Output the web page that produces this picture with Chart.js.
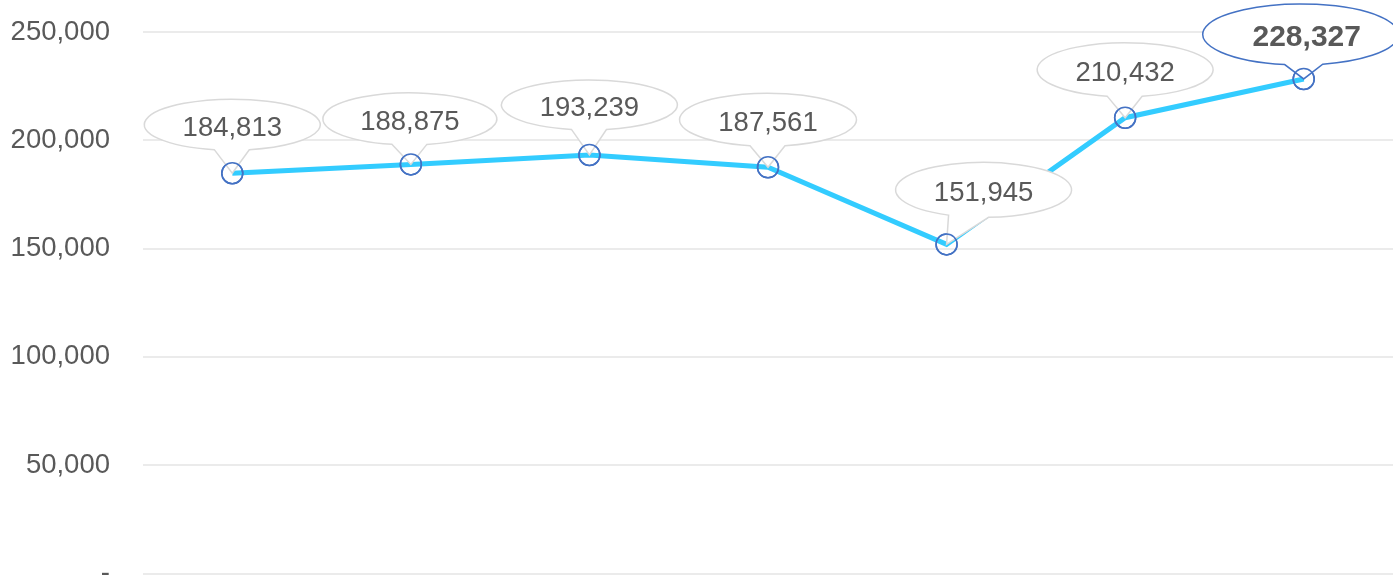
<!DOCTYPE html>
<html>
<head>
<meta charset="utf-8">
<script src="https://cdn.jsdelivr.net/npm/chart.js@4.4.0/dist/chart.umd.min.js"></script>
<style>
  html, body { margin: 0; padding: 0; background: #ffffff; overflow: hidden; }
  #wrap { position: relative; width: 1393px; height: 590px; }
</style>
</head>
<body>
<div id="wrap"><canvas id="c"></canvas></div>
<script>
// ---- data ----
const categories = ["1", "2", "3", "4", "5", "6", "7"];
const values = [184813, 188875, 193239, 187561, 151945, 210432, 228327];
const yTicks = [0, 50000, 100000, 150000, 200000, 250000];

// ---- callout styling (offsets from the point, sizes) ----
const callouts = [
  { dx: 0,  dy: -48.5, w: 176, h: 51, base: [-18, 17] },
  { dx: -1, dy: -45.5, w: 174, h: 52, base: [-18, 17] },
  { dx: 0,  dy: -50,   w: 176, h: 50, base: [-18, 17] },
  { dx: 0,  dy: -47.5, w: 177, h: 53, base: [-18, 17] },
  { dx: 37, dy: -54.5, w: 176, h: 55, base: [-35, 5] },
  { dx: 0,  dy: -48,   w: 176, h: 54, base: [-18, 17] },
  { dx: -3, dy: -44.5, w: 196, h: 61, base: [-16, 22], bold: true, border: '#4472c4', tdx: 6 }
];

const fmt = v => v === 0 ? '-' : v.toLocaleString('en-US');

const calloutPlugin = {
  id: 'callouts',
  afterDatasetsDraw(chart) {
    const meta = chart.getDatasetMeta(0);
    const ctx = chart.ctx;
    meta.data.forEach((pt, i) => {
      const c = callouts[i];
      const px = pt.x, py = pt.y;
      const cx = px + c.dx, cy = py + c.dy;
      const a = c.w / 2, b = c.h / 2;
      const uL = Math.max(-a + 1, Math.min(a - 1, c.base[0]));
      const uR = Math.max(-a + 1, Math.min(a - 1, c.base[1]));
      const tL = Math.acos(uL / a);
      const tR = Math.acos(uR / a);
      ctx.save();
      ctx.beginPath();
      ctx.ellipse(cx, cy, a, b, 0, tL, tR, false);
      ctx.lineTo(px, py);
      ctx.closePath();
      ctx.fillStyle = '#ffffff';
      ctx.fill();
      ctx.lineWidth = 1.5;
      ctx.strokeStyle = c.border || '#d9d9d9';
      ctx.stroke();
      ctx.fillStyle = '#595959';
      ctx.font = (c.bold ? 'bold 30px' : '27.5px') + ' "Liberation Sans", Arial, sans-serif';
      ctx.textAlign = 'center';
      ctx.textBaseline = 'middle';
      ctx.fillText(fmt(values[i]), cx + (c.tdx || 0), cy + 3.5);
      ctx.restore();
    });
    // redraw the point markers above the callout tails
    meta.data.forEach(pt => pt.draw(ctx, chart.chartArea));
  }
};

new Chart(document.getElementById('c'), {
  type: 'line',
  data: {
    labels: categories,
    datasets: [{
      data: values,
      borderColor: '#33ccff',
      borderWidth: 5,
      tension: 0,
      pointRadius: 10.5,
      pointHoverRadius: 10.5,
      pointBorderWidth: 1.5,
      pointBorderColor: '#4472c4',
      pointBackgroundColor: 'rgba(0,0,0,0)',
      fill: false,
      clip: false
    }]
  },
  options: {
    responsive: true,
    maintainAspectRatio: false,
    animation: false,
    events: [],
    layout: { autoPadding: false, padding: { top: 32, right: 0, bottom: 0, left: 0 } },
    plugins: { legend: { display: false }, tooltip: { enabled: false } },
    scales: {
      x: {
        display: false,
        offset: true
      },
      y: {
        min: 0,
        max: 250000,
        afterBuildTicks: s => { s.ticks = yTicks.map(v => ({ value: v })); },
        afterFit: s => { s.width = 143; },
        border: { display: false },
        grid: { color: '#ebebeb', lineWidth: 2, drawTicks: true, tickLength: 33, tickColor: 'rgba(0,0,0,0)' },
        ticks: {
          padding: 0,
          color: '#595959',
          font: { family: '"Liberation Sans", Arial, sans-serif', size: 27.5 },
          callback: v => fmt(v)
        }
      }
    }
  },
  plugins: [calloutPlugin]
});
</script>
</body>
</html>
